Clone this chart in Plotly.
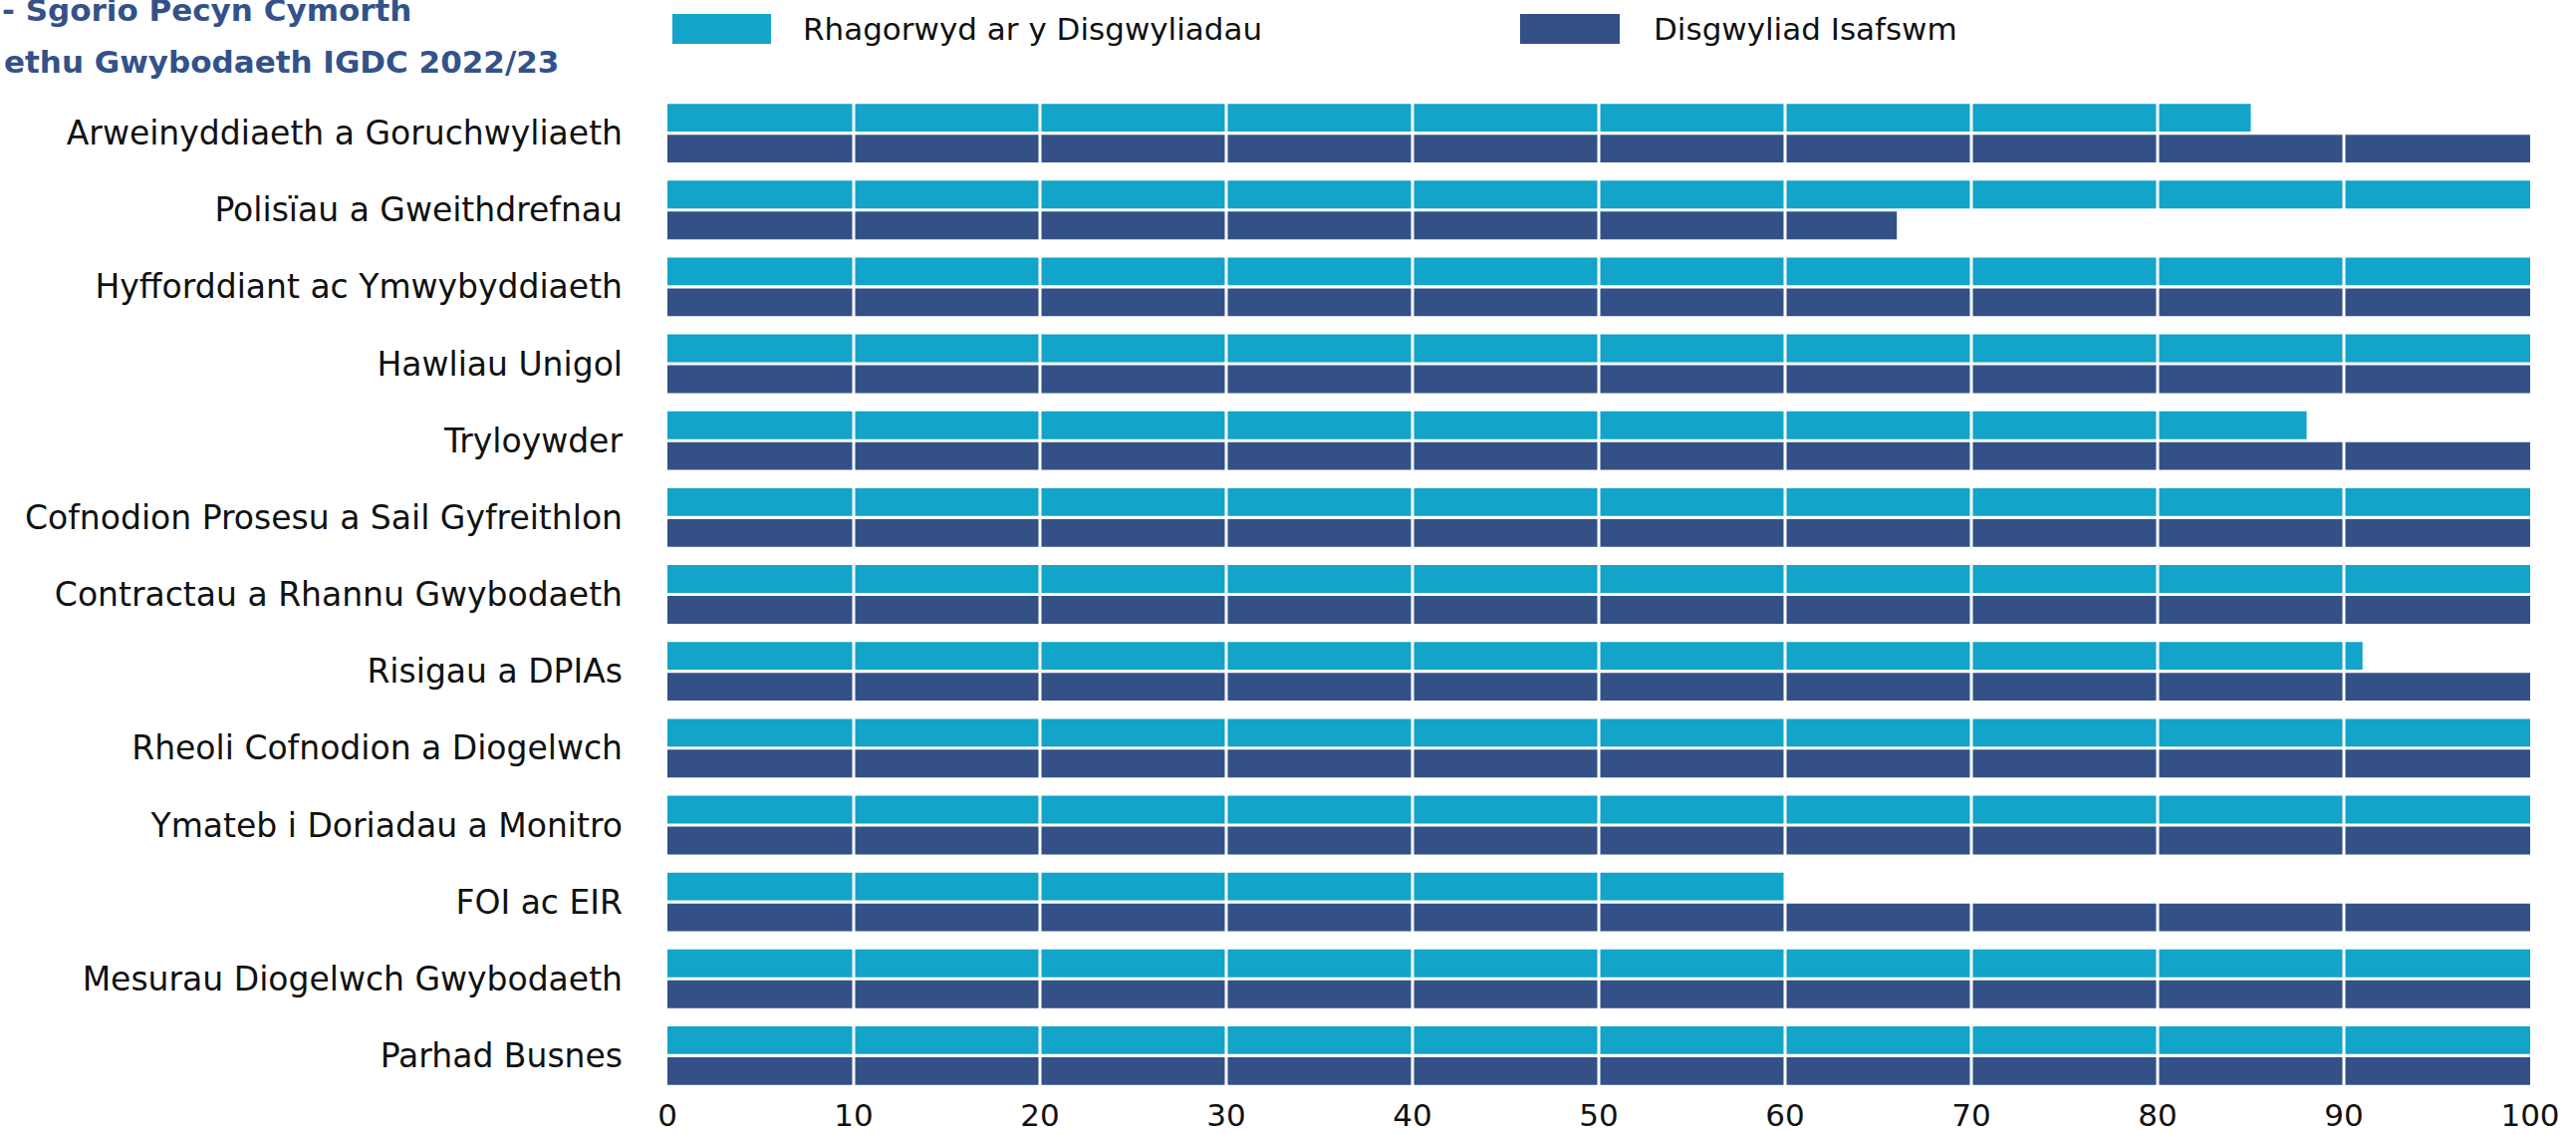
import plotly.graph_objects as go

# --- datos ---
categorias = [
    "Arweinyddiaeth a Goruchwyliaeth",
    "Polisïau a Gweithdrefnau",
    "Hyfforddiant ac Ymwybyddiaeth",
    "Hawliau Unigol",
    "Tryloywder",
    "Cofnodion Prosesu a Sail Gyfreithlon",
    "Contractau a Rhannu Gwybodaeth",
    "Risigau a DPIAs",
    "Rheoli Cofnodion a Diogelwch",
    "Ymateb i Doriadau a Monitro",
    "FOI ac EIR",
    "Mesurau Diogelwch Gwybodaeth",
    "Parhad Busnes",
]
rhagorwyd = [85, 100, 100, 100, 88, 100, 100, 91, 100, 100, 60, 100, 100]
isafswm = [100, 66, 100, 100, 100, 100, 100, 100, 100, 100, 100, 100, 100]
ticks_x = [0, 10, 20, 30, 40, 50, 60, 70, 80, 90, 100]

nombres = ["Rhagorwyd ar y Disgwyliadau", "Disgwyliad Isafswm"]
titulo = ["- Sgorio Pecyn Cymorth", "ethu Gwybodaeth IGDC 2022/23"]

# --- paleta ---
CIAN = "#12A4C9"
AZUL = "#335187"
TEXTO = "#111111"
FUENTE = "DejaVu Sans, Open Sans, sans-serif"

W, H = 2586, 1139
L, R, T, B = 670, 46, 95, 41
PW, PH = W - L - R, H - T - B


def px_x(px):
    return (px - L) / PW


def px_y(py):
    return (H - B - py) / PH


fig = go.Figure()
fig.add_trace(go.Bar(y=categorias, x=rhagorwyd, orientation="h", name=nombres[0],
                     marker=dict(color=CIAN, line=dict(width=0)), showlegend=False))
fig.add_trace(go.Bar(y=categorias, x=isafswm, orientation="h", name=nombres[1],
                     marker=dict(color=AZUL, line=dict(width=0)), showlegend=False))

# rejilla blanca por encima de las barras
for t in ticks_x[1:-1]:
    fig.add_vline(x=t, line_color="white", line_width=3, layer="above")

# leyenda manual (cuadros grandes)
leyenda = [(675, 774, 804, CIAN), (1526, 1626, 1658, AZUL)]
for (x0, x1, xt, col), nom in zip(leyenda, nombres):
    fig.add_shape(type="rect", xref="paper", yref="paper",
                  x0=px_x(x0), x1=px_x(x1), y0=px_y(44), y1=px_y(14),
                  fillcolor=col, line_width=0)
    fig.add_annotation(xref="paper", yref="paper", x=px_x(xt), y=px_y(29),
                       xanchor="left", yanchor="middle", showarrow=False,
                       text=nom, font=dict(size=31, color=TEXTO, family=FUENTE))

# título recortado a la izquierda
for txt, xr, yc in zip(titulo, [415, 563], [10, 62]):
    fig.add_annotation(xref="paper", yref="paper", x=px_x(xr), y=px_y(yc),
                       xanchor="right", yanchor="middle", showarrow=False,
                       text=f"<b>{txt}</b>", font=dict(size=31, color="#335289", family=FUENTE))

fig.update_layout(
    width=W, height=H, margin=dict(l=L, r=R, t=T, b=B),
    paper_bgcolor="white", plot_bgcolor="white",
    font=dict(family=FUENTE, color=TEXTO, size=33),
    barmode="group", bargap=0.197, bargroupgap=0.1,
    xaxis=dict(range=[0, 100], tickvals=ticks_x, showgrid=False, zeroline=False,
               showline=False, ticks="", automargin=False,
               tickfont=dict(size=31, color=TEXTO)),
    yaxis=dict(autorange="reversed", showgrid=False, showline=False, ticks="",
               automargin=False, ticklabelstandoff=44,
               tickfont=dict(size=33, color=TEXTO)),
)

# sin el margen de 8px del body, para que la figura empiece en (0, 0)
fig.write_html("out.html", config={"displayModeBar": False},
               post_script="document.body.style.margin='0px';")
